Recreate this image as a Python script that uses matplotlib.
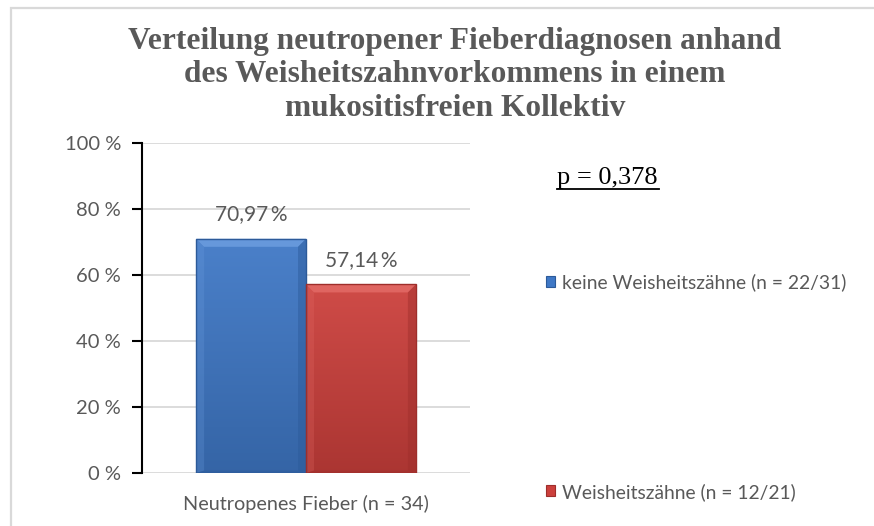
import numpy as np
import matplotlib
matplotlib.use("Agg")
import matplotlib.pyplot as plt
from matplotlib.patches import Rectangle, Polygon
import matplotlib.colors as mcolors

# ---- data ----
category = "Neutropenes Fieber (n = 34)"
series_labels = ["keine Weisheitszähne (n = 22/31)", "Weisheitszähne (n = 12/21)"]
values = [70.97, 57.14]
value_texts = ["70,97\u2009%", "57,14\u2009%"]
yticks = [0, 20, 40, 60, 80, 100]
ytick_labels = ["0 %", "20 %", "40 %", "60 %", "80 %", "100 %"]
title_lines = ["Verteilung neutropener Fieberdiagnosen anhand",
               "des Weisheitszahnvorkommens in einem",
               "mukositisfreien Kollektiv"]
p_text = "p = 0,378"

colors = ["#3F78C6", "#CC403C"]
light = ["#6C9DDF", "#E36A66"]
dark = ["#2C5A99", "#9E2E2B"]

W, H = 874, 526
fig = plt.figure(figsize=(W / 100, H / 100), dpi=100)
fig.patch.set_facecolor("white")

# outer chart border
fig.add_artist(Rectangle((10.5 / W, -0.05), 1.1, 1 - 8 / H + 0.05,
                         transform=fig.transFigure, fill=False,
                         edgecolor="#D9D9D9", lw=1.6))

ax = fig.add_axes([142 / W, (H - 473) / H, (470 - 142) / W, (473 - 143) / H])
ax.set_ylim(0, 100)
ax.set_xlim(-0.5, 0.5)

text_font = ["Lato", "DejaVu Sans"]
gray = "#595959"

bw = 0.335
xs = [-bw / 2, bw / 2]
bars = ax.bar(xs, values, width=bw, color=colors, edgecolor="none", zorder=3)

# gradient + bevel decoration derived from each bar's geometry
for b, c, lc, dc in zip(bars, colors, light, dark):
    x0, w, h = b.get_x(), b.get_width(), b.get_height()
    c0 = np.array(mcolors.to_rgb(c))
    grad = np.linspace(0, 1, 64)[:, None]
    top_c = c0 * 0.94 + 0.06
    bot_c = c0 * 0.84
    img = top_c[None, None, :] * (1 - grad[..., None]) + bot_c[None, None, :] * grad[..., None]
    img = np.repeat(img, 2, axis=1)
    im = ax.imshow(img, extent=[x0, x0 + w, 0, h], aspect="auto", zorder=3.5,
                   interpolation="bilinear")
    im.set_clip_path(b)
    bx = 8 / 328
    by = 8 / 330 * 100
    xa, xb, yt = x0, x0 + w, h
    ax.add_patch(Polygon([(xa, yt), (xb, yt), (xb - bx, yt - by), (xa + bx, yt - by)],
                         closed=True, facecolor=lc, edgecolor="none", alpha=0.85, zorder=4))
    ax.add_patch(Polygon([(xa, yt), (xa + bx, yt - by), (xa + bx, by * 0.3), (xa, 0)],
                         closed=True, facecolor=lc, edgecolor="none", alpha=0.25, zorder=4))
    ax.add_patch(Polygon([(xb, yt), (xb - bx, yt - by), (xb - bx, by * 0.3), (xb, 0)],
                         closed=True, facecolor=dc, edgecolor="none", alpha=0.45, zorder=4))
    ax.add_patch(Polygon([(xa, 0), (xa + bx, by * 0.3), (xb - bx, by * 0.3), (xb, 0)],
                         closed=True, facecolor=dc, edgecolor="none", alpha=0.45, zorder=4))
    ax.add_patch(Rectangle((xa, 0), w, h, fill=False, edgecolor=dc, lw=1.0, zorder=4.5))

for b, t in zip(bars, value_texts):
    ax.annotate(t, (b.get_x() + b.get_width() / 2, b.get_height()),
                xytext=(0, 10.5), textcoords="offset points", ha="center", va="bottom",
                fontsize=15, color=gray, family=text_font, zorder=6)

# axes styling
ax.set_yticks(yticks)
ax.set_yticklabels(ytick_labels, family=text_font, fontsize=14.5, color=gray)
ax.yaxis.grid(True, color="#D9D9D9", lw=1.3, zorder=0)
ax.set_axisbelow(True)
ax.tick_params(axis="y", length=7, width=1.5, color="black", pad=8)
ax.set_xticks([0])
ax.set_xticklabels([category], family=text_font, fontsize=14.3, color=gray)
ax.tick_params(axis="x", length=0, pad=16)
for s in ["top", "right", "bottom"]:
    ax.spines[s].set_visible(False)
ax.spines["left"].set_color("black")
ax.spines["left"].set_linewidth(1.5)
ax.set_facecolor("none")

# legend
handles = [Rectangle((0, 0), 1, 1, facecolor=c, edgecolor=d, lw=0.8) for c, d in zip(colors, dark)]
leg = fig.legend(handles, series_labels, loc="upper left",
                 bbox_to_anchor=(538 / W, 1 - 266 / H), frameon=False,
                 prop={"family": text_font, "size": 13.9}, labelcolor=gray,
                 handlelength=0.5, handleheight=0.5, handletextpad=0.35,
                 labelspacing=9.9, borderaxespad=0)

# title
for i, line in enumerate(title_lines):
    fig.text(455 / W, 1 - (42 + 33 * i) / H, line, ha="center", va="center",
             family="Liberation Serif", weight="bold", fontsize=22.6, color=gray)

# p value
fig.text(557 / W, 1 - 178 / H, p_text, ha="left", va="center",
         family="Liberation Serif", fontsize=19, color="black")
fig.add_artist(plt.Line2D([557 / W, 659 / W], [1 - 189.5 / H, 1 - 189.5 / H],
                          transform=fig.transFigure, color="black", lw=1.3))

fig.savefig("out.png", dpi=100)
